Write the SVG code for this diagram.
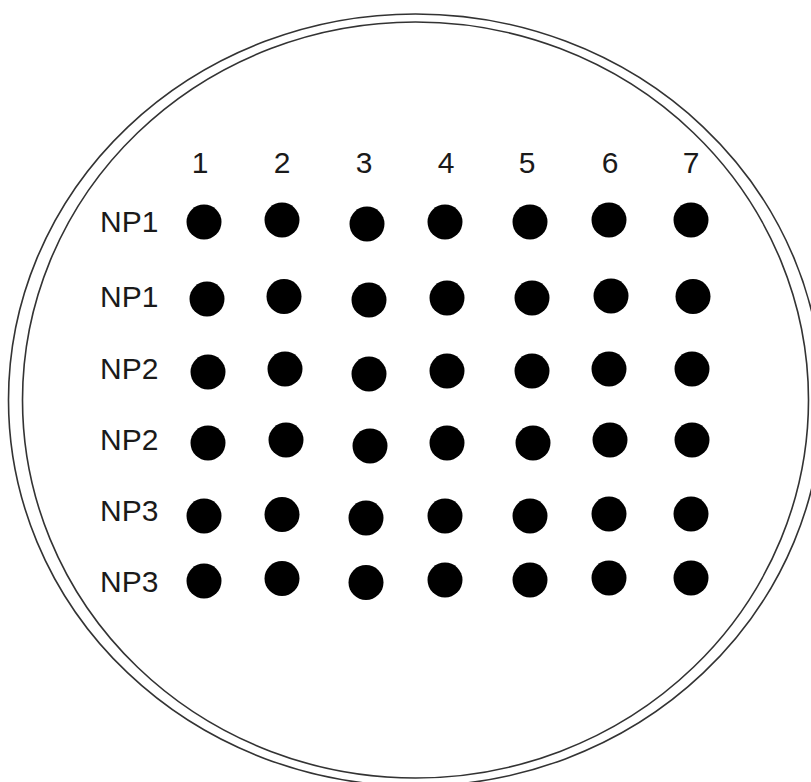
<svg xmlns="http://www.w3.org/2000/svg" width="811" height="782" viewBox="0 0 811 782">
<style>
.rim{fill:none;stroke:#333;stroke-width:1.6}
.lbl{font-family:"Liberation Sans",Arial,sans-serif;font-size:30px;fill:#1a1a1a}
.col{text-anchor:middle}
.dot{fill:#000}
</style>
<rect width="811" height="782" fill="#fff"/>
<g id="dish">
<ellipse class="rim" cx="415.5" cy="400" rx="407" ry="386"/>
<ellipse class="rim" cx="415.5" cy="400" rx="393" ry="378"/>
</g>
<g id="columns">
<text class="lbl col" x="200" y="173">1</text>
<text class="lbl col" x="282" y="173">2</text>
<text class="lbl col" x="364" y="173">3</text>
<text class="lbl col" x="446" y="173">4</text>
<text class="lbl col" x="527" y="173">5</text>
<text class="lbl col" x="610" y="173">6</text>
<text class="lbl col" x="691" y="173">7</text>
</g>
<g id="row1">
<text class="lbl" x="100" y="232">NP1</text>
<circle class="dot" cx="204" cy="222" r="17.5"/><circle class="dot" cx="282" cy="220" r="17.5"/><circle class="dot" cx="367" cy="224" r="17.5"/><circle class="dot" cx="445" cy="222" r="17.5"/><circle class="dot" cx="530" cy="222" r="17.5"/><circle class="dot" cx="609" cy="220" r="17.5"/><circle class="dot" cx="691" cy="220" r="17.5"/>
</g>
<g id="row2">
<text class="lbl" x="100" y="307">NP1</text>
<circle class="dot" cx="207" cy="299" r="17.5"/><circle class="dot" cx="284" cy="296.5" r="17.5"/><circle class="dot" cx="369" cy="300" r="17.5"/><circle class="dot" cx="447" cy="298" r="17.5"/><circle class="dot" cx="532" cy="298" r="17.5"/><circle class="dot" cx="611" cy="296" r="17.5"/><circle class="dot" cx="693" cy="296.5" r="17.5"/>
</g>
<g id="row3">
<text class="lbl" x="100" y="379">NP2</text>
<circle class="dot" cx="208" cy="372" r="17.5"/><circle class="dot" cx="285" cy="369" r="17.5"/><circle class="dot" cx="369" cy="374" r="17.5"/><circle class="dot" cx="447" cy="371" r="17.5"/><circle class="dot" cx="532" cy="371" r="17.5"/><circle class="dot" cx="609" cy="369" r="17.5"/><circle class="dot" cx="692" cy="369" r="17.5"/>
</g>
<g id="row4">
<text class="lbl" x="100" y="450">NP2</text>
<circle class="dot" cx="208" cy="443" r="17.5"/><circle class="dot" cx="286" cy="440" r="17.5"/><circle class="dot" cx="370" cy="446" r="17.5"/><circle class="dot" cx="447" cy="443" r="17.5"/><circle class="dot" cx="533" cy="443" r="17.5"/><circle class="dot" cx="610" cy="440" r="17.5"/><circle class="dot" cx="692" cy="440" r="17.5"/>
</g>
<g id="row5">
<text class="lbl" x="100" y="521">NP3</text>
<circle class="dot" cx="204" cy="516" r="17.5"/><circle class="dot" cx="282" cy="514.5" r="17.5"/><circle class="dot" cx="366" cy="518" r="17.5"/><circle class="dot" cx="445" cy="516" r="17.5"/><circle class="dot" cx="530" cy="516" r="17.5"/><circle class="dot" cx="609" cy="514" r="17.5"/><circle class="dot" cx="691" cy="514" r="17.5"/>
</g>
<g id="row6">
<text class="lbl" x="100" y="592">NP3</text>
<circle class="dot" cx="204" cy="581" r="17.5"/><circle class="dot" cx="282" cy="578.5" r="17.5"/><circle class="dot" cx="366" cy="582.5" r="17.5"/><circle class="dot" cx="445" cy="580" r="17.5"/><circle class="dot" cx="530" cy="580" r="17.5"/><circle class="dot" cx="609" cy="578" r="17.5"/><circle class="dot" cx="691" cy="578" r="17.5"/>
</g>
</svg>
